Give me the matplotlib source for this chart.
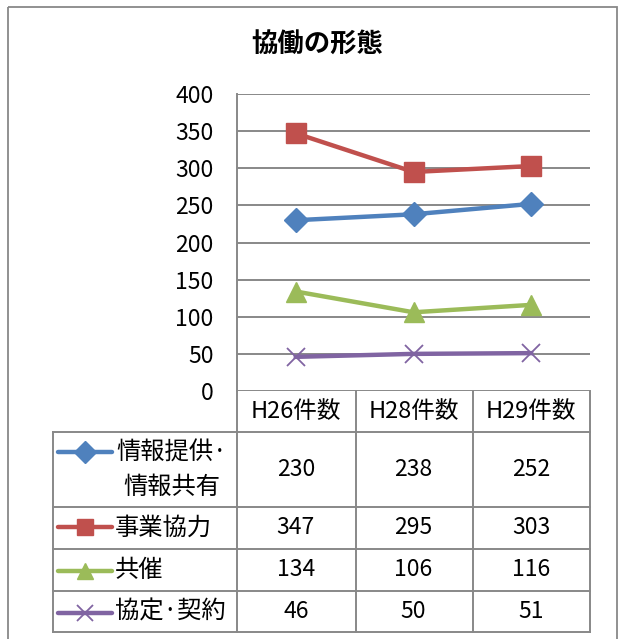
import matplotlib
matplotlib.use("Agg")
import matplotlib.pyplot as plt
import matplotlib.transforms as mtransforms
from matplotlib.patches import Rectangle

plt.rcParams['font.family'] = ['Noto Sans CJK JP', 'DejaVu Sans']

title = "協働の形態"
categories = ["H26件数", "H28件数", "H29件数"]
series_names = ["情報提供·\n情報共有", "事業協力", "共催", "協定·契約"]
info_share = [230, 238, 252]
business = [347, 295, 303]
cohost = [134, 106, 116]
agreement = [46, 50, 51]
yticks = [0, 50, 100, 150, 200, 250, 300, 350, 400]

series = [info_share, business, cohost, agreement]
colors = ["#4F81BD", "#C0504D", "#9BBB59", "#8064A2"]
markers = ["D", "s", "^", "x"]
msizes = [12.5, 14, 14, 13]
key_msizes = [11.5, 11, 11.5, 11]

W, H = 621, 639
fig = plt.figure(figsize=(W / 100, H / 100), dpi=100)

# overlay axes in pixel coordinates
ov = fig.add_axes([0, 0, 1, 1])
ov.set_xlim(0, W)
ov.set_ylim(H, 0)
ov.axis("off")
ov.patch.set_alpha(0)

grid_c = "#888888"
# outer frame
ov.add_patch(Rectangle((8, 7), 609, 650, fill=False, edgecolor=grid_c, lw=1.3, clip_on=True))

# plot area
L, T, R, B = 237, 94, 590, 391
ax = fig.add_axes([L / W, (H - B) / H, (R - L) / W, (B - T) / H])
ax.patch.set_alpha(0)
x = list(range(len(categories)))
for vals, c, m, ms in zip(series, colors, markers, msizes):
    ax.plot(x, vals, color=c, lw=3.2, marker=m, ms=ms, mew=1.3 if m == "x" else 1,
            mec=c, mfc=c, clip_on=False, zorder=3)
ax.set_xlim(-0.5, len(categories) - 0.5)
ax.set_ylim(0, 400)
ax.set_yticks(yticks)
ax.set_yticklabels([str(v) for v in yticks], fontsize=16.5)
ax.tick_params(axis="y", length=0, pad=17)
ax.set_xticks([])
ax.grid(axis="y", color=grid_c, lw=1.4)
for s in ["top", "right", "bottom"]:
    ax.spines[s].set_visible(False)
ax.spines["left"].set_color(grid_c)
ax.spines["left"].set_linewidth(1.4)

fig.text(317 / W, 1 - 45 / H, title, ha="center", va="center", fontsize=19, fontweight="bold")

# data table
tr = mtransforms.blended_transform_factory(ax.transData, ov.transData)
col_edges = [L, 356, 473, R]
row_edges = [391, 432, 507, 549, 591, 632]
legend_left = 53
lk = dict(color=grid_c, lw=1.4)
for xe in col_edges:
    ov.plot([xe, xe], [row_edges[0], row_edges[-1]], **lk)
for ye in row_edges[1:]:
    ov.plot([legend_left, R], [ye, ye], **lk)
ov.plot([legend_left, legend_left], [row_edges[1], row_edges[-1]], **lk)

for i, cat in enumerate(categories):
    ov.text(i, (row_edges[0] + row_edges[1]) / 2, cat, transform=tr, ha="center",
            va="center", fontsize=17)

key_y = [452, 527, 571, 613]
for r, (name, vals, c, m, ms) in enumerate(zip(series_names, series, colors, markers, key_msizes)):
    yc = (row_edges[r + 1] + row_edges[r + 2]) / 2
    for i, v in enumerate(vals):
        ov.text(i, yc, str(v), transform=tr, ha="center", va="center", fontsize=16.5)
    ky = key_y[r]
    ov.plot([58, 112], [ky, ky], color=c, lw=3.2, solid_capstyle="round")
    ov.plot([85], [ky], marker=m, ms=ms, color=c, mec=c,
            mew=1.3 if m == "x" else 1)
    if "\n" in name:
        ov.text(172, yc, name, ha="center", va="center", fontsize=17.5, linespacing=1.4)
    else:
        ov.text(115, yc, name, ha="left", va="center", fontsize=17.5)

fig.savefig("out.png", dpi=100)
